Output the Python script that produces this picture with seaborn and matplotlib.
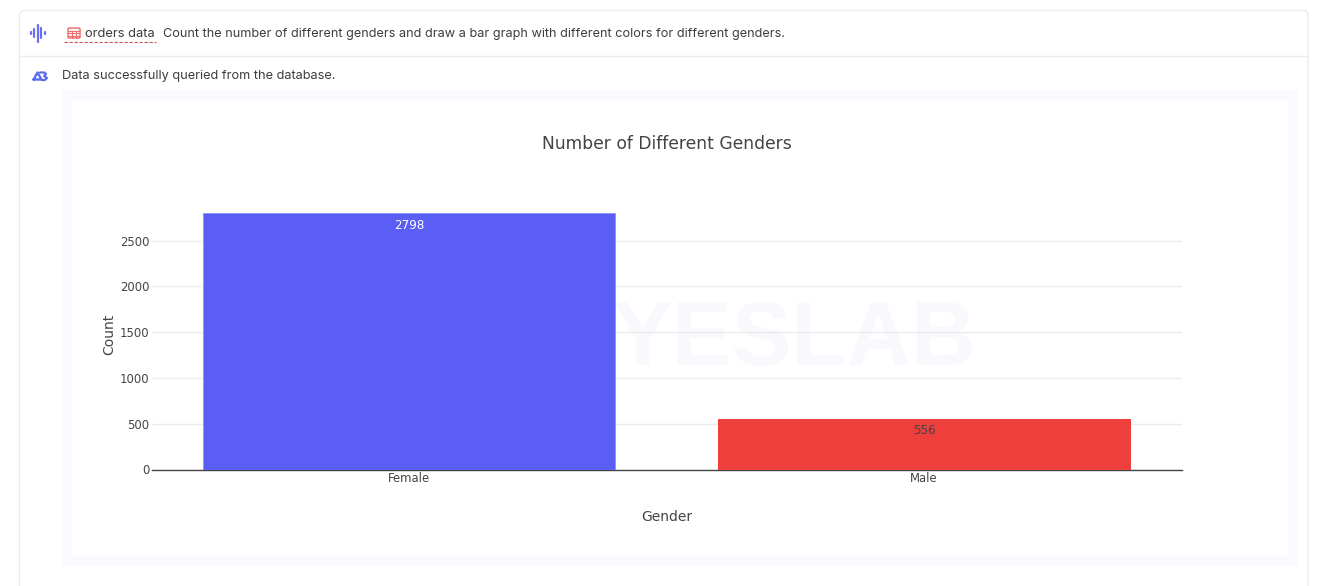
import matplotlib
matplotlib.use("Agg")
import matplotlib.pyplot as plt
from matplotlib.patches import FancyBboxPatch, Rectangle
import seaborn as sns
import pandas as pd

genders = ["Female", "Male"]
counts = [2798, 556]
bar_colors = ["#5B5EF5", "#EE3F3D"]
bar_edges = ["#9396F9", "#EE3F3D"]
label_colors = ["white", "#444444"]
y_ticks = [0, 500, 1000, 1500, 2000, 2500]
y_tick_labels = ["0", "500", "1000", "1500", "2000", "2500"]

W, H = 1325, 586
UI_FONT = "Inter"
CHART_FONT = "DejaVu Sans"

sns.set_theme(style="white")
plt.rcParams["font.family"] = [CHART_FONT]

df = pd.DataFrame({"gender": genders, "count": counts})

fig = plt.figure(figsize=(W / 100, H / 100), dpi=100, facecolor="white")

# page behind the chart, in pixel coordinates
bg = fig.add_axes([0, 0, 1, 1], zorder=0)
bg.set_xlim(0, W)
bg.set_ylim(H, 0)
bg.axis("off")

bg.add_patch(FancyBboxPatch((19.5, 10.5), 1288.5, 600, boxstyle="round,pad=0,rounding_size=5",
                            fc="white", ec="#ebebeb", lw=1))
bg.plot([20, 1308], [55.5, 55.5], color="#ebebeb", lw=1)
bg.add_patch(FancyBboxPatch((62, 90), 1236, 476, boxstyle="round,pad=0,rounding_size=3",
                            fc="#F9F9FE", ec="none"))
bg.add_patch(Rectangle((72, 100), 1216, 456, fc="white", ec="none"))

# watermark
bg.text(794.5, 341.5, "YESLAB", fontsize=64.5, fontweight="bold", family="Liberation Sans",
        color="#F8F8FD", ha="center", va="center", zorder=1)

# header icons
wave_x = [31, 34, 37.5, 41, 44.5]
wave_h = [1, 4, 8.5, 5, 1]
for x, h in zip(wave_x, wave_h):
    bg.plot([x, x], [33 - h, 33 + h], color="#6B6EF0", lw=1.6, solid_capstyle="round")
bg.add_patch(FancyBboxPatch((68, 28), 12, 10, boxstyle="round,pad=0,rounding_size=1",
                            fc="#FDF1F1", ec="#EE6A6A", lw=1))
for y in [30.7, 33.3, 35.8]:
    bg.plot([68, 80], [y, y], color="#EE6A6A", lw=0.7)
for x in [72, 76]:
    bg.plot([x, x], [30.7, 38], color="#EE6A6A", lw=0.7)
bg.plot([64, 156], [41.5, 41.5], color="#D0555A", lw=0.8, dashes=(3, 1.5))
bg.plot([33.5, 37.5, 41.5, 33.5], [79.5, 72.5, 79.5, 79.5], color="#5B6CF0", lw=1.7,
        solid_joinstyle="round")
bg.plot([40, 44.5, 46, 44, 47, 45, 42], [72.5, 72.5, 74, 76, 78, 80, 80], color="#5B6CF0",
        lw=1.6, solid_joinstyle="round")

bg.text(85, 33.8, "orders data", fontsize=9.3, family=UI_FONT, color="#3d3d3d", va="center")
bg.text(163, 33.5, "Count the number of different genders and draw a bar graph with different colors for different genders.",
        fontsize=9.16, family=UI_FONT, color="#3d3d3d", va="center")
bg.text(62, 75.5, "Data successfully queried from the database.",
        fontsize=9.2, family=UI_FONT, color="#3d3d3d", va="center")

# chart
left, right, top, bottom = 151.5, 1181.5, 200, 469.5
ax = fig.add_axes([left / W, 1 - bottom / H, (right - left) / W, (bottom - top) / H], zorder=1)
ax.patch.set_alpha(0)

sns.barplot(data=df, x="gender", y="count", hue="gender", palette=bar_colors,
            legend=False, width=0.8, ax=ax, saturation=1, zorder=3)

ax.set_xlim(-0.5, 1.5)
ax.set_ylim(0, 2945)
ax.set_yticks(y_ticks)
ax.set_yticklabels(y_tick_labels)
ax.grid(axis="y", color="#EBEBEB", lw=1)
ax.set_axisbelow(True)
sns.despine(ax=ax, left=True)
ax.spines["bottom"].set_color("#444444")
ax.spines["bottom"].set_linewidth(1)
ax.tick_params(axis="y", length=0, labelsize=8.4, labelcolor="#444444", pad=1.5)
ax.tick_params(axis="x", length=0, labelsize=8.4, labelcolor="#444444", pad=2)

for i, container in enumerate(ax.containers):
    for bar in container:
        bar.set_edgecolor(bar_edges[i])
        bar.set_linewidth(0.7)
    ax.bar_label(container, labels=[str(counts[i])], label_type="edge", padding=-13,
                 fontsize=8.6, color=label_colors[i])

ax.set_xlabel("Gender", fontsize=10, color="#444444", labelpad=18)
ax.set_ylabel("Count", fontsize=10, color="#444444")
ax.yaxis.set_label_coords((116 - left) / (right - left), 0.5)

fig.text(667 / W, 1 - 144 / H, "Number of Different Genders", fontsize=12.3,
         color="#444444", ha="center", va="center")

fig.savefig("out.png", dpi=100)
